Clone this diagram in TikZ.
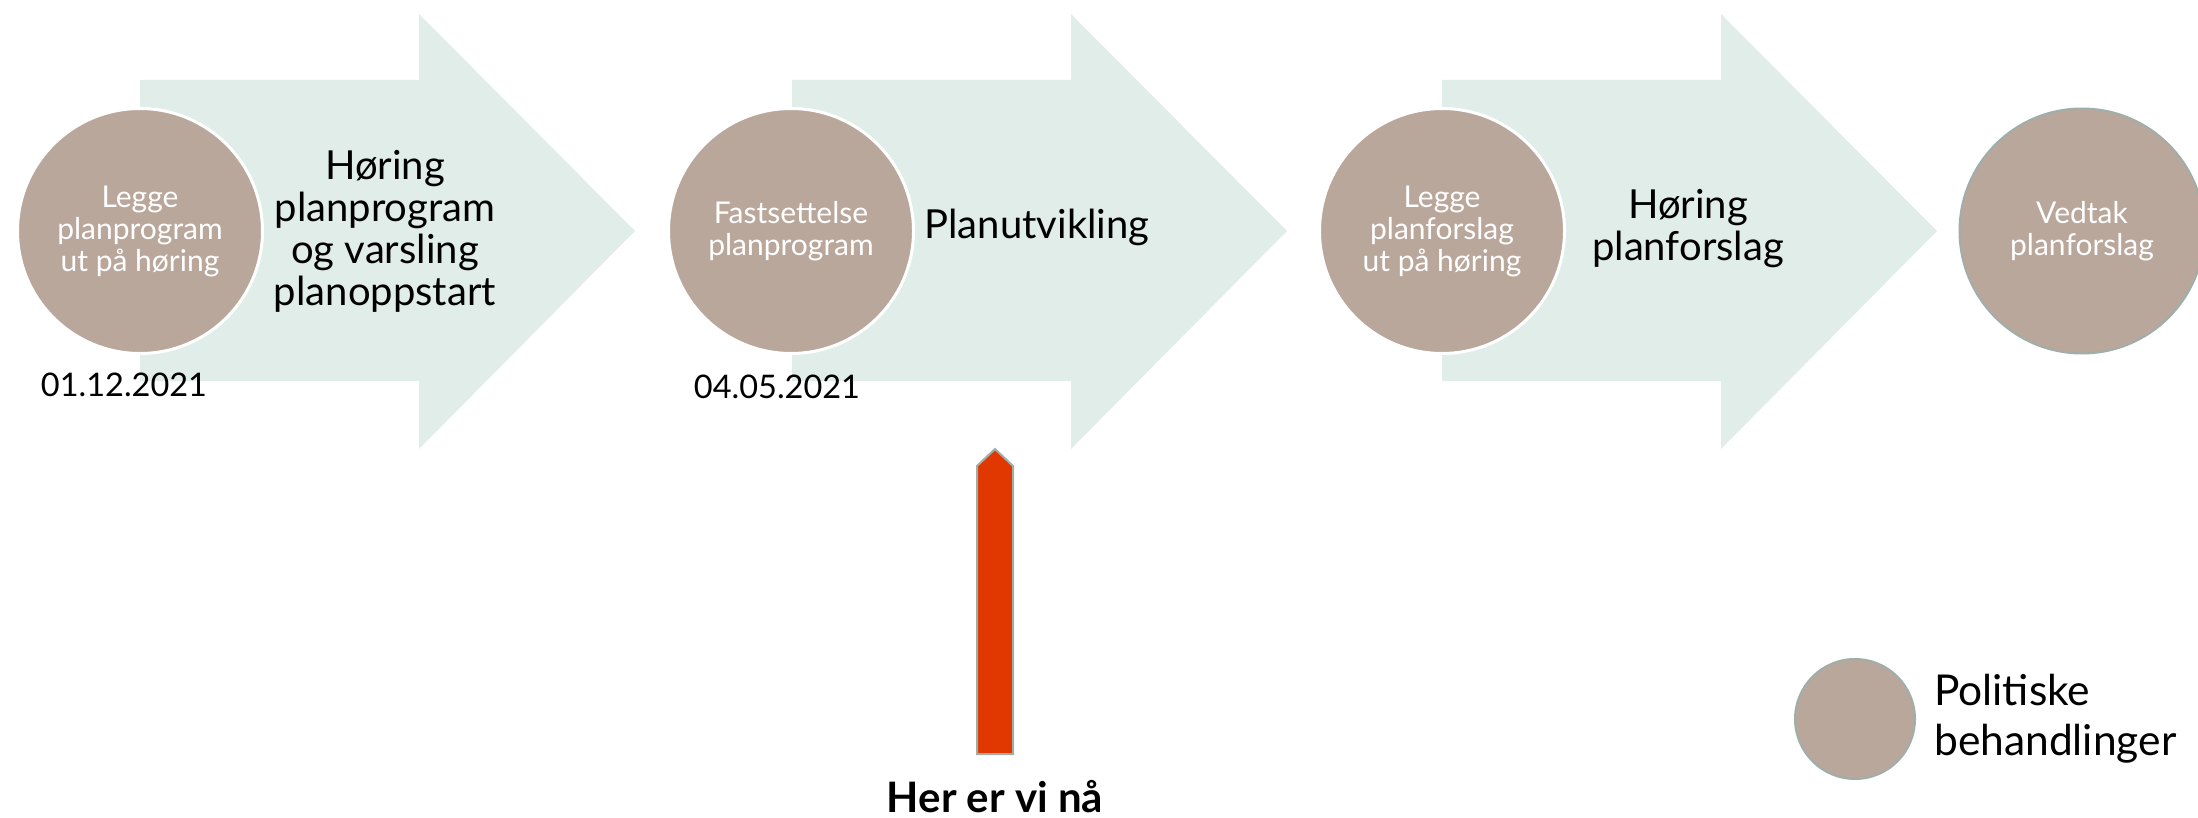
\documentclass[tikz,border=0pt]{standalone}
\usepackage{fontspec}
\setmainfont{Lato}
\usetikzlibrary{positioning}
\definecolor{taupe}{RGB}{186,167,155}
\definecolor{mint}{RGB}{225,237,233}
\definecolor{signal}{RGB}{224,56,0}
\definecolor{kant}{RGB}{160,174,170}
\tikzstyle{politisk}=[circle,fill=taupe,draw=white,line width=3pt,minimum size=245pt,inner sep=0pt,text=white,align=center,font=\fontsize{30}{32}\selectfont]
\tikzstyle{fase}=[align=center,inner sep=0pt,font=\fontsize{40}{42}\selectfont]
\tikzstyle{dato}=[inner sep=0pt,font=\fontsize{32.5}{38}\selectfont]
\newcommand{\prosesspil}[1]{ % #1 = left edge of the shaft
\fill[mint] (#1,80) -- ++(279,0) -- ++(0,-66) -- ++(216,217) -- ++(-216,218) -- ++(0,-68) -- ++(-279,0) -- cycle;
}
\begin{document}
\begin{tikzpicture}[x=1pt,y=-1pt]
	\useasboundingbox (0,0) rectangle (2198,818);
	\prosesspil{140}
	\prosesspil{792}
	\prosesspil{1442}
	\node[politisk] (legge) at (140,231) {Legge\\planprogram\\ut på høring};
	\node[politisk] (fastsett) at (791,231) {Fastsettelse\\planprogram};
	\node[politisk] (leggeforslag) at (1442,231) {Legge\\planforslag\\ut på høring};
	\node[politisk,draw=kant,line width=2pt] (vedtak) at (2082,231) {Vedtak\\planforslag};
	\node[fase] (horing) at (385,231) {Høring\\planprogram\\og varsling\\planoppstart};
	\node[fase] (utvikling) at (1037,227) {Planutvikling};
	\node[fase] (horingforslag) at (1688,229) {Høring\\planforslag};
	\node[dato] (dato1) at (124,385) {01.12.2021};
	\node[dato] (dato2) at (777,387) {04.05.2021};
	% her er vi
	\filldraw[fill=signal,draw=kant,line width=2pt] (977,754) -- (977,466) -- (995,449) -- (1013,466) -- (1013,754) -- cycle;
	\coordinate (pilbunn) at (995,756);
	\node[inner sep=0pt,font=\fontsize{42}{46}\selectfont\bfseries,below=24pt of pilbunn] (her) {Her er vi nå};
	% forklaring
	\node[politisk,draw=kant,line width=2pt,minimum size=120pt] (forklaring) at (1855,719) {};
	\node[inner sep=0pt,align=left,font=\fontsize{42.5}{50}\selectfont,right=18pt of forklaring] (politiske) {Politiske\\behandlinger};
\end{tikzpicture}
\end{document}
